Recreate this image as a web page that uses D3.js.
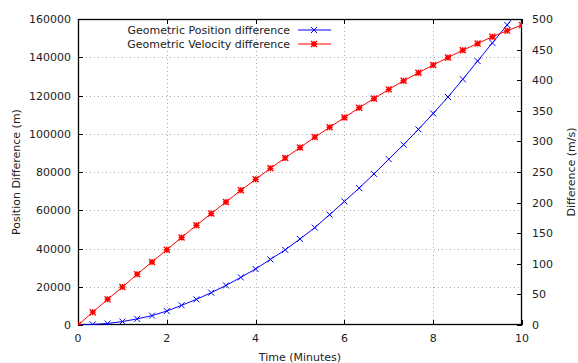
<!DOCTYPE html>
<html>
<head>
<meta charset="utf-8">
<script src="https://cdn.jsdelivr.net/npm/d3@7"></script>
<style>
  body { margin: 0; background: #fff; }
  text { font-family: "DejaVu Sans", sans-serif; font-size: 11px; fill: #222; }
</style>
</head>
<body>
<svg id="chart" width="578" height="363"></svg>
<script>
// time in minutes (one sample every 20 s)
const times = [0, 0.333, 0.667, 1, 1.333, 1.667, 2, 2.333, 2.667, 3, 3.333, 3.667, 4, 4.333, 4.667,
  5, 5.333, 5.667, 6, 6.333, 6.667, 7, 7.333, 7.667, 8, 8.333, 8.667, 9, 9.333, 9.667, 10];
// geometric position difference (m)
const positionDiff = [0, 300, 800, 1800, 3200, 4900, 7300, 10300, 13400, 16900, 20700, 24900, 29300,
  34300, 39300, 45000, 50900, 57700, 64600, 71600, 79000, 86700, 94300, 102300, 110600, 119200,
  128500, 138000, 147500, 156900, 166500];
// geometric velocity difference (m/s)
const velocityDiff = [0, 21, 42, 62, 83, 103, 123, 143, 163, 182, 201, 220, 238, 256, 273, 290, 307,
  323, 339, 355, 370, 385, 399, 412, 425, 437, 449, 460, 471, 481, 490];

const xTicks = [0, 2, 4, 6, 8, 10];
const yTicks = [0, 20000, 40000, 60000, 80000, 100000, 120000, 140000, 160000];
const y2Ticks = [0, 50, 100, 150, 200, 250, 300, 350, 400, 450, 500];

const svg = d3.select("#chart");
const pLeft = 78, pRight = 522, pTop = 19, pBottom = 325;

const x = d3.scaleLinear().domain([0, 10]).range([pLeft, pRight]);
const y = d3.scaleLinear().domain([0, 160000]).range([pBottom, pTop]);
const y2 = d3.scaleLinear().domain([0, 500]).range([pBottom, pTop]);

// grid
const grid = svg.append("g").attr("stroke", "#aaa").attr("stroke-width", 1)
  .attr("stroke-dasharray", "1,3");
grid.selectAll(".gx").data(xTicks.slice(1, -1)).enter().append("line")
  .attr("x1", d => Math.round(x(d)) + 0.5).attr("x2", d => Math.round(x(d)) + 0.5)
  .attr("y1", pTop).attr("y2", pBottom);
grid.selectAll(".gy").data(yTicks.slice(1, -1)).enter().append("line")
  .attr("y1", d => Math.round(y(d)) + 0.5).attr("y2", d => Math.round(y(d)) + 0.5)
  .attr("x1", pLeft).attr("x2", pRight);

// axes (gnuplot style: ticks inward, mirrored x ticks on top)
const tickLen = 5;
const axisG = svg.append("g").attr("stroke", "#000").attr("stroke-width", 1);
xTicks.forEach(t => {
  const px = Math.round(x(t)) + 0.5;
  axisG.append("line").attr("x1", px).attr("x2", px).attr("y1", pBottom).attr("y2", pBottom - tickLen);
  axisG.append("line").attr("x1", px).attr("x2", px).attr("y1", pTop).attr("y2", pTop + tickLen);
});
yTicks.forEach(t => {
  const py = Math.round(y(t)) + 0.5;
  axisG.append("line").attr("x1", pLeft).attr("x2", pLeft + tickLen).attr("y1", py).attr("y2", py);
});
y2Ticks.forEach(t => {
  const py = Math.round(y2(t)) + 0.5;
  axisG.append("line").attr("x1", pRight).attr("x2", pRight - tickLen).attr("y1", py).attr("y2", py);
});

svg.append("rect").attr("x", pLeft + 0.5).attr("y", pTop + 0.5)
  .attr("width", pRight - pLeft - 1).attr("height", pBottom - pTop - 1)
  .attr("fill", "none").attr("stroke", "#000").attr("stroke-width", 1.3);

// tick labels
svg.append("g").selectAll("text").data(xTicks).enter().append("text")
  .attr("x", d => x(d)).attr("y", pBottom + 17).attr("text-anchor", "middle").text(d => d);
svg.append("g").selectAll("text").data(yTicks).enter().append("text")
  .attr("x", pLeft - 7).attr("y", d => y(d) + 4).attr("text-anchor", "end").text(d => d);
svg.append("g").selectAll("text").data(y2Ticks).enter().append("text")
  .attr("x", pRight + 10).attr("y", d => y2(d) + 4).attr("text-anchor", "start").text(d => d);

// axis titles
svg.append("text").attr("x", 300).attr("y", 361).attr("text-anchor", "middle").text("Time (Minutes)");
svg.append("text").attr("transform", `translate(20,${(pTop + pBottom) / 2}) rotate(-90)`)
  .attr("text-anchor", "middle").text("Position Difference (m)");
svg.append("text").attr("transform", `translate(575,${(pTop + pBottom) / 2}) rotate(-90)`)
  .attr("text-anchor", "middle").text("Difference (m/s)");

// clip for the plot
svg.append("clipPath").attr("id", "plotClip").append("rect")
  .attr("x", pLeft).attr("y", pTop).attr("width", pRight - pLeft).attr("height", pBottom - pTop);

const plot = svg.append("g").attr("clip-path", "url(#plotClip)");

const posLine = d3.line().x((d, i) => x(times[i])).y(d => y(d));
const velLine = d3.line().x((d, i) => x(times[i])).y(d => y2(d));

function crossPath(s) {
  return `M${-s},${-s}L${s},${s}M${-s},${s}L${s},${-s}`;
}
function starPath(s) {
  return crossPath(s) + `M${-s},0L${s},0M0,${-s}L0,${s}`;
}

plot.append("path").datum(positionDiff).attr("d", posLine)
  .attr("fill", "none").attr("stroke", "#0000ff").attr("stroke-width", 1);
plot.selectAll(".pm").data(positionDiff).enter().append("path")
  .attr("transform", (d, i) => `translate(${x(times[i])},${y(d)})`)
  .attr("d", crossPath(3)).attr("stroke", "#0000ff").attr("fill", "none");

plot.append("path").datum(velocityDiff).attr("d", velLine)
  .attr("fill", "none").attr("stroke", "#ff0000").attr("stroke-width", 1);
plot.selectAll(".vm").data(velocityDiff).enter().append("path")
  .attr("transform", (d, i) => `translate(${x(times[i])},${y2(d)})`)
  .attr("d", starPath(3)).attr("stroke", "#ff0000").attr("stroke-width", 1.4).attr("fill", "none");

// legend
const legend = [
  { label: "Geometric Position difference", color: "#0000ff", marker: crossPath(3), w: 1 },
  { label: "Geometric Velocity difference", color: "#ff0000", marker: starPath(3), w: 1.4 }
];
const lg = svg.append("g");
legend.forEach((d, i) => {
  const ly = 30 + i * 14;
  lg.append("text").attr("x", 290).attr("y", ly + 4).attr("text-anchor", "end").text(d.label);
  lg.append("line").attr("x1", 298).attr("x2", 331).attr("y1", ly).attr("y2", ly)
    .attr("stroke", d.color);
  lg.append("path").attr("transform", `translate(314,${ly})`).attr("d", d.marker)
    .attr("stroke", d.color).attr("stroke-width", d.w).attr("fill", "none");
});
</script>
</body>
</html>
